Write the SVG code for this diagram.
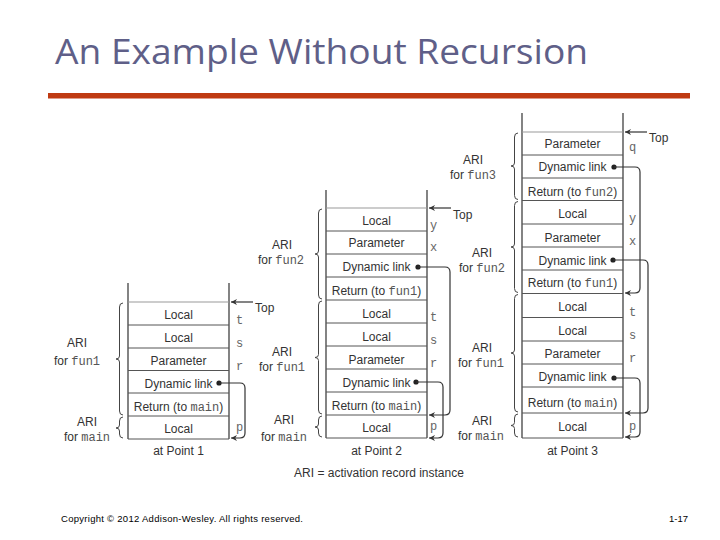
<svg xmlns="http://www.w3.org/2000/svg" width="720" height="540" viewBox="0 0 720 540">
<defs>
<marker id="arr" viewBox="0 0 10 10" refX="10" refY="5" markerWidth="8" markerHeight="6" markerUnits="userSpaceOnUse" orient="auto">
<path d="M0,0 L10,5 L0,10 L3,5 z" fill="#333"/>
</marker>
<style>
.t{font-family:"Liberation Sans",Arial,sans-serif;font-size:12px;fill:#333;text-anchor:middle}
.m{font-family:"Liberation Mono","DejaVu Sans Mono",monospace;font-size:12px;fill:#555}
.v{font-family:"Liberation Mono","DejaVu Sans Mono",monospace;font-size:12px;fill:#666}
.wall{stroke:#333;stroke-width:1.2;fill:none}
.row{stroke:#555;stroke-width:1;fill:none}
.topl{stroke:#999;stroke-width:1;fill:none}
.br{stroke:#444;stroke-width:1;fill:none}
.cn{stroke:#333;stroke-width:1.2;fill:none}
.dot{fill:#222}
</style>
</defs>
<rect width="720" height="540" fill="#fff"/>
<text x="55" y="64" font-family="'Open Sans','Liberation Sans',sans-serif" font-size="34" fill="#5f5f88" textLength="533" lengthAdjust="spacingAndGlyphs">An Example Without Recursion</text>
<rect x="48" y="93" width="642" height="5.5" fill="#bf3a12"/>

<!-- Stack 1 -->
<g id="stack1">
<path class="wall" d="M128,283 V439 M229,283 V439"/>
<line class="topl" x1="128" y1="302" x2="229" y2="302"/>
<path class="row" d="M128,325 H229 M128,348 H229 M128,370.5 H229 M128,393 H229 M128,416 H229 M128,439 H229"/>
<text class="t" x="178.5" y="319">Local</text>
<text class="t" x="178.5" y="342">Local</text>
<text class="t" x="178.5" y="365">Parameter</text>
<text class="t" x="178.5" y="388">Dynamic link</text>
<text class="t" x="178.5" y="411">Return (to <tspan class="m">main</tspan>)</text>
<text class="t" x="178.5" y="433">Local</text>
<text class="v" x="236" y="324">t</text>
<text class="v" x="236" y="347">s</text>
<text class="v" x="236" y="370">r</text>
<text class="v" x="236" y="431">p</text>
<path class="br" d="M123,303 Q119.5,303 119.5,307 V356 Q119.5,359 116,359 Q119.5,359 119.5,362 V411 Q119.5,415 123,415"/>
<path class="br" d="M123,417 Q119.5,417 119.5,421 V425 Q119.5,428 116,428 Q119.5,428 119.5,431 V434 Q119.5,438 123,438"/>
<text class="t" x="77" y="347">ARI</text>
<text class="t" x="77" y="365">for <tspan class="m">fun1</tspan></text>
<text class="t" x="87" y="426">ARI</text>
<text class="t" x="87" y="441">for <tspan class="m">main</tspan></text>
<text class="t" x="178.5" y="455">at Point 1</text>
</g>

<!-- Stack 2 -->
<g id="stack2">
<path class="wall" d="M326,190 V438 M427,190 V438"/>
<line class="topl" x1="326" y1="208" x2="427" y2="208"/>
<path class="row" d="M326,231 H427 M326,254 H427 M326,277 H427 M326,300 H427 M326,323 H427 M326,346 H427 M326,369 H427 M326,392 H427 M326,415 H427 M326,438 H427"/>
<text class="t" x="376.5" y="225">Local</text>
<text class="t" x="376.5" y="247">Parameter</text>
<text class="t" x="376.5" y="271">Dynamic link</text>
<text class="t" x="376.5" y="295">Return (to <tspan class="m">fun1</tspan>)</text>
<text class="t" x="376.5" y="318">Local</text>
<text class="t" x="376.5" y="341">Local</text>
<text class="t" x="376.5" y="364">Parameter</text>
<text class="t" x="376.5" y="387">Dynamic link</text>
<text class="t" x="376.5" y="410">Return (to <tspan class="m">main</tspan>)</text>
<text class="t" x="376.5" y="432">Local</text>
<text class="v" x="430" y="229">y</text>
<text class="v" x="430" y="251">x</text>
<text class="v" x="430" y="321">t</text>
<text class="v" x="430" y="344">s</text>
<text class="v" x="430" y="367">r</text>
<text class="v" x="430" y="430">p</text>
<path class="br" d="M322,209 Q318.5,209 318.5,213 V251 Q318.5,254 315,254 Q318.5,254 318.5,257 V295 Q318.5,299 322,299"/>
<path class="br" d="M322,301 Q318.5,301 318.5,305 V354.5 Q318.5,357.5 315,357.5 Q318.5,357.5 318.5,360.5 V410 Q318.5,414 322,414"/>
<path class="br" d="M322,416 Q318.5,416 318.5,420 V424 Q318.5,427 315,427 Q318.5,427 318.5,430 V433 Q318.5,437 322,437"/>
<text class="t" x="282" y="249">ARI</text>
<text class="t" x="281" y="264">for <tspan class="m">fun2</tspan></text>
<text class="t" x="282" y="356">ARI</text>
<text class="t" x="282" y="371">for <tspan class="m">fun1</tspan></text>
<text class="t" x="284" y="424">ARI</text>
<text class="t" x="284" y="441">for <tspan class="m">main</tspan></text>
<text class="t" x="376.5" y="455">at Point 2</text>
</g>

<!-- Stack 3 -->
<g id="stack3">
<path class="wall" d="M522,113 V438 M623,113 V438"/>
<line class="topl" x1="522" y1="132" x2="623" y2="132"/>
<path class="row" d="M522,155 H623 M522,178 H623 M522,200.5 H623 M522,224 H623 M522,247 H623 M522,270 H623 M522,293.5 H623 M522,317.5 H623 M522,341 H623 M522,364 H623 M522,387 H623 M522,413 H623 M522,438 H623"/>
<text class="t" x="572.5" y="148">Parameter</text>
<text class="t" x="572.5" y="171">Dynamic link</text>
<text class="t" x="572.5" y="196">Return (to <tspan class="m">fun2</tspan>)</text>
<text class="t" x="572.5" y="218">Local</text>
<text class="t" x="572.5" y="242">Parameter</text>
<text class="t" x="572.5" y="265">Dynamic link</text>
<text class="t" x="572.5" y="287">Return (to <tspan class="m">fun1</tspan>)</text>
<text class="t" x="572.5" y="311">Local</text>
<text class="t" x="572.5" y="335">Local</text>
<text class="t" x="572.5" y="358">Parameter</text>
<text class="t" x="572.5" y="381">Dynamic link</text>
<text class="t" x="572.5" y="407">Return (to <tspan class="m">main</tspan>)</text>
<text class="t" x="572.5" y="431">Local</text>
<text class="v" x="629" y="151">q</text>
<text class="v" x="629" y="222">y</text>
<text class="v" x="629" y="245">x</text>
<text class="v" x="629" y="316">t</text>
<text class="v" x="629" y="339">s</text>
<text class="v" x="629" y="362">r</text>
<text class="v" x="629" y="430">p</text>
<path class="br" d="M518,133 Q514.5,133 514.5,137 V163 Q514.5,166 511,166 Q514.5,166 514.5,169 V195.5 Q514.5,199.5 518,199.5"/>
<path class="br" d="M518,201.5 Q514.5,201.5 514.5,205.5 V244 Q514.5,247 511,247 Q514.5,247 514.5,250 V288.5 Q514.5,292.5 518,292.5"/>
<path class="br" d="M518,294.5 Q514.5,294.5 514.5,298.5 V350 Q514.5,353 511,353 Q514.5,353 514.5,356 V408 Q514.5,412 518,412"/>
<path class="br" d="M518,414 Q514.5,414 514.5,418 V422.5 Q514.5,425.5 511,425.5 Q514.5,425.5 514.5,428.5 V433 Q514.5,437 518,437"/>
<text class="t" x="473" y="164">ARI</text>
<text class="t" x="473" y="179">for <tspan class="m">fun3</tspan></text>
<text class="t" x="482" y="257">ARI</text>
<text class="t" x="482" y="272">for <tspan class="m">fun2</tspan></text>
<text class="t" x="482" y="352">ARI</text>
<text class="t" x="481" y="367">for <tspan class="m">fun1</tspan></text>
<text class="t" x="482" y="425">ARI</text>
<text class="t" x="481" y="440">for <tspan class="m">main</tspan></text>
<text class="t" x="572.5" y="455">at Point 3</text>
</g>

<g id="connectors">
<line class="cn" x1="253" y1="302" x2="231" y2="302" marker-end="url(#arr)"/>
<text x="255" y="312" font-family="'Liberation Sans',Arial,sans-serif" font-size="12" fill="#333">Top</text>
<line class="cn" x1="451" y1="208" x2="429" y2="208" marker-end="url(#arr)"/>
<text x="453" y="219" font-family="'Liberation Sans',Arial,sans-serif" font-size="12" fill="#333">Top</text>
<line class="cn" x1="647" y1="132" x2="625" y2="132" marker-end="url(#arr)"/>
<text x="649" y="142" font-family="'Liberation Sans',Arial,sans-serif" font-size="12" fill="#333">Top</text>

<circle class="dot" cx="219" cy="383" r="2.6"/>
<path class="cn" d="M219,383 H240 Q245,383 245,388 V433 Q245,438 240,438 H231" marker-end="url(#arr)"/>
<circle class="dot" cx="418" cy="267" r="2.6"/>
<path class="cn" d="M418,267 H445 Q450,267 450,272 V410 Q450,415 445,415 H429" marker-end="url(#arr)"/>
<circle class="dot" cx="416" cy="382" r="2.6"/>
<path class="cn" d="M416,382 H438 Q443,382 443,387 V433 Q443,438 438,438 H429" marker-end="url(#arr)"/>
<circle class="dot" cx="614" cy="167" r="2.6"/>
<path class="cn" d="M614,167 H635 Q640,167 640,172 V288 Q640,293 635,293 H625" marker-end="url(#arr)"/>
<circle class="dot" cx="613" cy="260" r="2.6"/>
<path class="cn" d="M613,260 H643 Q648,260 648,265 V408 Q648,413 643,413 H625" marker-end="url(#arr)"/>
<circle class="dot" cx="614" cy="378" r="2.6"/>
<path class="cn" d="M614,378 H635 Q640,378 640,383 V432 Q640,437 635,437 H625" marker-end="url(#arr)"/>
</g>

<text class="t" x="379" y="477">ARI = activation record instance</text>
<text x="61" y="522" font-family="'Liberation Sans',Arial,sans-serif" font-size="9.5" fill="#000" textLength="242" lengthAdjust="spacing">Copyright © 2012 Addison-Wesley. All rights reserved.</text>
<text x="688" y="522" font-family="'Liberation Sans',Arial,sans-serif" font-size="9.5" fill="#000" text-anchor="end">1-17</text>
</svg>
